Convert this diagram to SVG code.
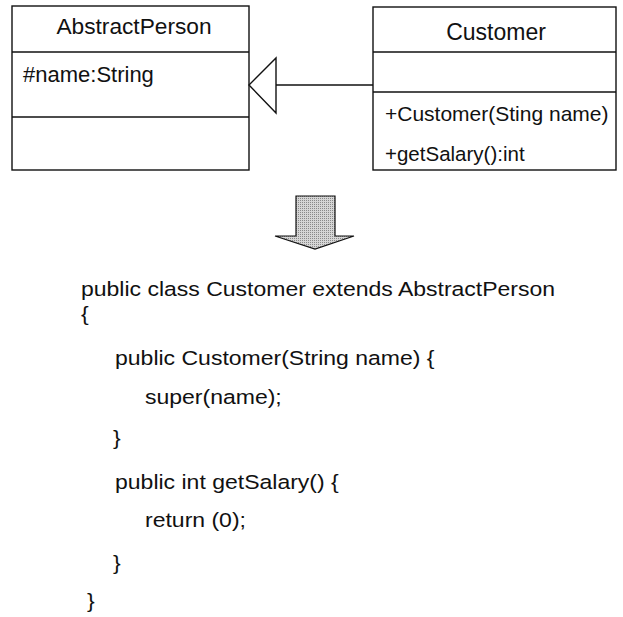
<svg xmlns="http://www.w3.org/2000/svg" width="623" height="617" viewBox="0 0 623 617">
  <defs>
    <style>
      .box { fill: #ffffff; stroke: #111111; stroke-width: 1.4; }
      .sep { stroke: #111111; stroke-width: 1.4; }
      .edge { fill: none; stroke: #111111; stroke-width: 1.4; }
      .t { font-family: "Liberation Sans", Arial, sans-serif; fill: #111111; }
      .code { font-family: "Liberation Sans", Arial, sans-serif; font-size: 19.5px; fill: #111111; }
    </style>
    <pattern id="dither" width="2" height="2" patternUnits="userSpaceOnUse">
      <rect width="2" height="2" fill="#d6d6d6"/>
      <rect width="1" height="1" fill="#8a8a8a"/>
    </pattern>
  </defs>
  <rect width="623" height="617" fill="#ffffff"/>

  <!-- class AbstractPerson -->
  <g id="abstract-person">
    <rect class="box" x="12" y="6" width="237" height="164"/>
    <line class="sep" x1="12" y1="52" x2="249" y2="52"/>
    <line class="sep" x1="12" y1="117" x2="249" y2="117"/>
    <text class="t" x="134" y="34" font-size="22.7" text-anchor="middle">AbstractPerson</text>
    <text class="t" x="23" y="82" font-size="22">#name:String</text>
  </g>

  <!-- class Customer -->
  <g id="customer">
    <rect class="box" x="373" y="7" width="243" height="163"/>
    <line class="sep" x1="373" y1="52" x2="616" y2="52"/>
    <line class="sep" x1="373" y1="92" x2="616" y2="92"/>
    <text class="t" x="496" y="40" font-size="23" text-anchor="middle">Customer</text>
    <text class="t" x="385" y="121" font-size="21">+Customer(Sting name)</text>
    <text class="t" x="385" y="161" font-size="20.5">+getSalary():int</text>
  </g>

  <!-- generalization: Customer extends AbstractPerson -->
  <g id="connectors">
    <line class="edge" x1="276" y1="85" x2="373" y2="85"/>
    <polygon class="box" points="249,85 276,58 276,113"/>
  </g>

  <!-- block arrow: model to code -->
  <g id="transform-arrow">
    <polygon points="296,196 335,196 335,236 354,236 315,249 275,236 296,236" fill="url(#dither)" stroke="#111111" stroke-width="1.2" stroke-linejoin="miter"/>
  </g>

  <!-- generated Java source, set in a wide cut of the sans face -->
  <g id="source-code" transform="scale(1.18 1)">
    <text class="code" x="68.6" y="296">public class Customer extends AbstractPerson</text>
    <text class="code" x="68.6" y="321">{</text>
    <text class="code" x="97.5" y="365">public Customer(String name) {</text>
    <text class="code" x="122.9" y="404">super(name);</text>
    <text class="code" x="95.8" y="445">}</text>
    <text class="code" x="97.5" y="489">public int getSalary() {</text>
    <text class="code" x="122.9" y="527">return (0);</text>
    <text class="code" x="95.8" y="570">}</text>
    <text class="code" x="73.7" y="608">}</text>
  </g>
</svg>
